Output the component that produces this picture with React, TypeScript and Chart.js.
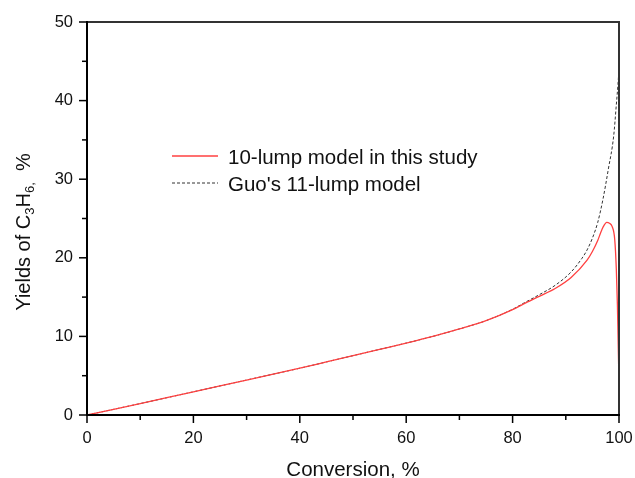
import React, { useEffect, useRef } from "react";
import { Chart, registerables } from "chart.js";
Chart.register(...registerables);

const seriesNames = ["10-lump model in this study", "Guo's 11-lump model"];
const xTitle = "Conversion, %";

const convRed = [0, 5, 10, 15, 20, 25, 30, 35, 40, 45, 50, 55, 60, 65, 70, 75, 80, 82, 85, 88, 91, 94, 95, 96, 96.5, 97, 97.7, 98.2, 98.7, 99.2, 99.5, 99.7, 99.85, 100];
const yieldRed = [0, 0.72, 1.45, 2.2, 2.95, 3.7, 4.45, 5.2, 5.95, 6.75, 7.55, 8.35, 9.15, 10.0, 10.95, 12.0, 13.4, 14.1, 15.1, 16.1, 17.5, 19.7, 20.8, 22.2, 23.1, 23.9, 24.5, 24.4, 24.0, 22.3, 18.5, 14.0, 9.0, 4.0];

const convBlack = [0, 5, 10, 15, 20, 25, 30, 35, 40, 45, 50, 55, 60, 65, 70, 75, 80, 82, 85, 88, 91, 93, 94, 95, 96, 97, 98, 99, 99.5, 99.8, 100];
const yieldBlack = [0, 0.72, 1.45, 2.2, 2.95, 3.7, 4.45, 5.2, 5.95, 6.75, 7.55, 8.35, 9.15, 10.0, 10.95, 12.0, 13.45, 14.2, 15.3, 16.5, 18.2, 19.9, 21.0, 22.5, 24.5, 27.5, 31.3, 35.5, 39.5, 42.0, 44.0];

const xMajor = [0, 20, 40, 60, 80, 100];
const yMajor = [0, 10, 20, 30, 40, 50];

const FONT = "'Liberation Sans', Arial, sans-serif";

const decor = {
  id: "decor",
  afterDatasetsDraw(chart: any) {
    const { ctx, chartArea: a, scales } = chart;
    const xs = scales.x, ys = scales.y;
    ctx.save();
    // frame
    ctx.strokeStyle = "#333";
    ctx.lineWidth = 2;
    ctx.beginPath();
    ctx.moveTo(a.left, a.top);
    ctx.lineTo(a.right, a.top);
    ctx.lineTo(a.right, a.bottom);
    ctx.stroke();
    ctx.strokeStyle = "#000";
    ctx.beginPath();
    ctx.moveTo(a.left, a.top - 1);
    ctx.lineTo(a.left, a.bottom);
    ctx.lineTo(a.right + 1, a.bottom);
    ctx.stroke();
    // ticks
    ctx.lineWidth = 1.5;
    for (let v = 0; v <= 100; v += 10) {
      const px = xs.getPixelForValue(v);
      const len = v % 20 === 0 ? 8 : 5;
      ctx.beginPath();
      ctx.moveTo(px, a.bottom);
      ctx.lineTo(px, a.bottom + len);
      ctx.stroke();
    }
    for (let v = 0; v <= 50; v += 5) {
      const py = ys.getPixelForValue(v);
      const len = v % 10 === 0 ? 8 : 5;
      ctx.beginPath();
      ctx.moveTo(a.left, py);
      ctx.lineTo(a.left - len, py);
      ctx.stroke();
    }
    // legend
    const lx0 = 172, lx1 = 218, tx = 228;
    const rows = [156, 183];
    ctx.font = `20.5px ${FONT}`;
    ctx.textBaseline = "middle";
    ctx.fillStyle = "#111";
    chart.data.datasets.forEach((ds: any, i: number) => {
      ctx.strokeStyle = ds.borderColor;
      ctx.lineWidth = ds.borderWidth;
      ctx.setLineDash(ds.borderDash || []);
      ctx.beginPath();
      ctx.moveTo(lx0, rows[i]);
      ctx.lineTo(lx1, rows[i]);
      ctx.stroke();
      ctx.setLineDash([]);
      ctx.fillText(ds.label, tx, rows[i] + 2.5);
    });
    // x title
    ctx.font = `20.5px ${FONT}`;
    ctx.textAlign = "center";
    ctx.fillText(xTitle, (a.left + a.right) / 2, 470);
    // y title with subscripts
    const parts: [string, boolean][] = [["Yields of C", false], ["3", true], ["H", false], ["6", true], [",", true], ["  %", false]];
    const big = `20px ${FONT}`, small = `13px ${FONT}`;
    let total = 0;
    parts.forEach(([t, s]) => { ctx.font = s ? small : big; total += ctx.measureText(t).width; });
    ctx.translate(30, 232);
    ctx.rotate(-Math.PI / 2);
    ctx.textAlign = "left";
    ctx.textBaseline = "alphabetic";
    let cx = -total / 2;
    parts.forEach(([t, s]) => {
      ctx.font = s ? small : big;
      ctx.fillText(t, cx, s ? 4 : 0);
      cx += ctx.measureText(t).width;
    });
    ctx.restore();
  },
};

export default function App() {
  const ref = useRef<HTMLCanvasElement>(null);
  useEffect(() => {
    const chart = new Chart(ref.current!, {
      type: "line",
      data: {
        datasets: [
          {
            label: seriesNames[0],
            data: convRed.map((x, i) => ({ x, y: yieldRed[i] })),
            borderColor: "#ff4040",
            borderWidth: 1.3,
            pointRadius: 0,
            cubicInterpolationMode: "monotone",
          },
          {
            label: seriesNames[1],
            data: convBlack.map((x, i) => ({ x, y: yieldBlack[i] })),
            borderColor: "#333",
            borderWidth: 1,
            borderDash: [3, 2],
            pointRadius: 0,
            cubicInterpolationMode: "monotone",
          },
        ],
      },
      options: {
        animation: false,
        responsive: false,
        layout: { padding: { top: 22, right: 16, left: 0, bottom: 0 } },
        plugins: { legend: { display: false }, tooltip: { enabled: false } },
        scales: {
          x: {
            type: "linear",
            min: 0,
            max: 100,
            afterBuildTicks: (s: any) => { s.ticks = xMajor.map((v) => ({ value: v })); },
            afterFit: (s: any) => { s.height = 63; s.paddingLeft = 0; s.paddingRight = 0; },
            grid: { display: false, drawTicks: false },
            border: { display: false },
            ticks: { padding: 14, color: "#111", font: { family: FONT, size: 16.5 } },
          },
          y: {
            type: "linear",
            min: 0,
            max: 50,
            afterBuildTicks: (s: any) => { s.ticks = yMajor.map((v) => ({ value: v })); },
            afterFit: (s: any) => { s.width = 87; s.paddingTop = 0; s.paddingBottom = 0; },
            grid: { display: false, drawTicks: false },
            border: { display: false },
            ticks: { padding: 14, color: "#111", font: { family: FONT, size: 16.5 } },
          },
        },
      },
      plugins: [decor],
    });
    return () => chart.destroy();
  }, []);
  return (
    <div style={{ position: "fixed", left: 0, top: 0, width: 635, height: 478, background: "#fff" }}>
      <canvas ref={ref} width={635} height={478} />
    </div>
  );
}
